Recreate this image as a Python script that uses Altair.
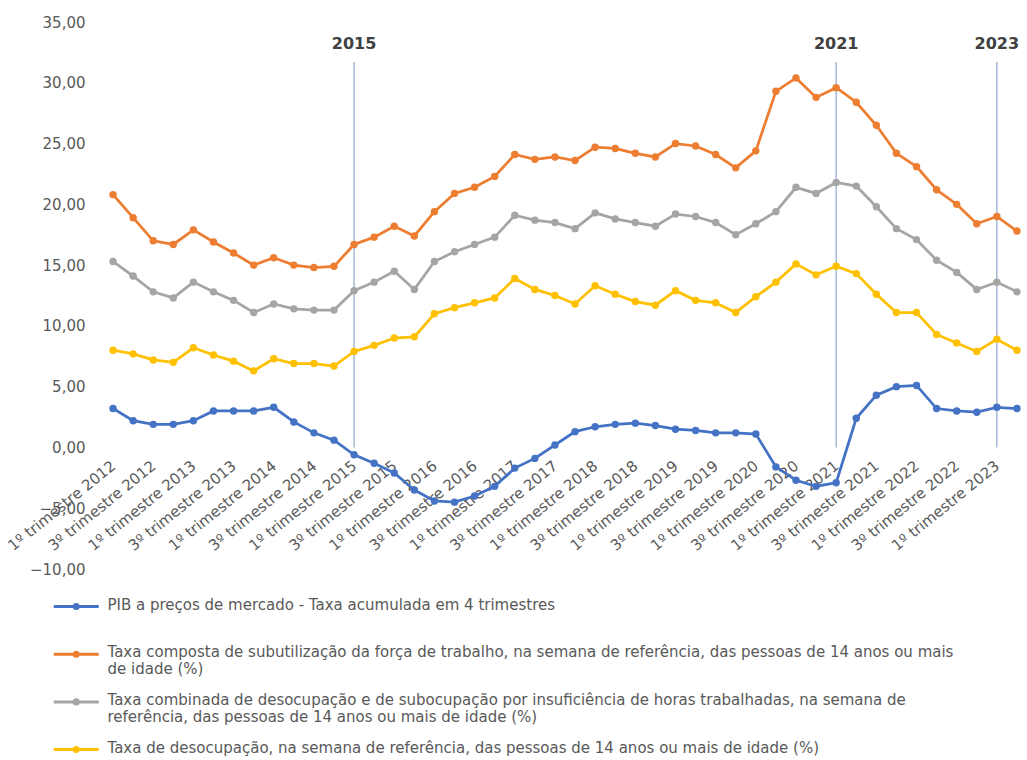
import altair as alt
import pandas as pd

FONT = "DejaVu Sans"

quarters = [
    f"{q}º trimestre {y}" for y in range(2012, 2024) for q in (1, 2, 3, 4)
][:46]

series_names = [
    "PIB a preços de mercado - Taxa acumulada em 4 trimestres| ",
    "Taxa composta de subutilização da força de trabalho, na semana de referência, das pessoas de 14 anos ou mais|de idade (%)",
    "Taxa combinada de desocupação e de subocupação por insuficiência de horas trabalhadas, na semana de|referência, das pessoas de 14 anos ou mais de idade (%)",
    "Taxa de desocupação, na semana de referência, das pessoas de 14 anos ou mais de idade (%)| ",
]
series_colors = ["#4472C4", "#ED7D31", "#A5A5A5", "#FFC000"]

pib = [3.2, 2.2, 1.9, 1.9, 2.2, 3.0, 3.0, 3.0, 3.3, 2.1, 1.2, 0.6,
       -0.6, -1.3, -2.1, -3.5, -4.4, -4.5, -4.0, -3.2, -1.7, -0.9, 0.2, 1.3,
       1.7, 1.9, 2.0, 1.8, 1.5, 1.4, 1.2, 1.2, 1.1, -1.6, -2.7, -3.2,
       -2.9, 2.4, 4.3, 5.0, 5.1, 3.2, 3.0, 2.9, 3.3, 3.2]
composta = [20.8, 18.9, 17.0, 16.7, 17.9, 16.9, 16.0, 15.0, 15.6, 15.0, 14.8, 14.9,
            16.7, 17.3, 18.2, 17.4, 19.4, 20.9, 21.4, 22.3, 24.1, 23.7, 23.9, 23.6,
            24.7, 24.6, 24.2, 23.9, 25.0, 24.8, 24.1, 23.0, 24.4, 29.3, 30.4, 28.8,
            29.6, 28.4, 26.5, 24.2, 23.1, 21.2, 20.0, 18.4, 19.0, 17.8]
combinada = [15.3, 14.1, 12.8, 12.3, 13.6, 12.8, 12.1, 11.1, 11.8, 11.4, 11.3, 11.3,
             12.9, 13.6, 14.5, 13.0, 15.3, 16.1, 16.7, 17.3, 19.1, 18.7, 18.5, 18.0,
             19.3, 18.8, 18.5, 18.2, 19.2, 19.0, 18.5, 17.5, 18.4, 19.4, 21.4, 20.9,
             21.8, 21.5, 19.8, 18.0, 17.1, 15.4, 14.4, 13.0, 13.6, 12.8]
desocupacao = [8.0, 7.7, 7.2, 7.0, 8.2, 7.6, 7.1, 6.3, 7.3, 6.9, 6.9, 6.7,
               7.9, 8.4, 9.0, 9.1, 11.0, 11.5, 11.9, 12.3, 13.9, 13.0, 12.5, 11.8,
               13.3, 12.6, 12.0, 11.7, 12.9, 12.1, 11.9, 11.1, 12.4, 13.6, 15.1, 14.2,
               14.9, 14.3, 12.6, 11.1, 11.1, 9.3, 8.6, 7.9, 8.9, 8.0]

marker_quarters = ["1º trimestre 2015", "1º trimestre 2021", "1º trimestre 2023"]
marker_labels = ["2015", "2021", "2023"]

rows = []
for name, vals in zip(series_names, [pib, composta, combinada, desocupacao]):
    for q, v in zip(quarters, vals):
        rows.append({"trimestre": q, "serie": name, "valor": v})
df = pd.DataFrame(rows)
markers = pd.DataFrame({"trimestre": marker_quarters, "ano": marker_labels})

xscale = alt.Scale(domain=quarters, type="point", padding=0.5)
yscale = alt.Scale(domain=[-10, 35], nice=False)

x_axis = alt.Axis(
    values=quarters[::2], labelAngle=-39, offset=-121.6, domain=False, ticks=False,
    grid=False, labelFont=FONT, labelFontSize=15, labelColor="#595959",
    labelPadding=16, title=None, zindex=0, labelOverlap=False, labelLimit=300,
)
y_axis = alt.Axis(
    values=list(range(-10, 36, 5)),
    labelExpr="replace(format(datum.value, '.2f'), '.', ',')",
    domain=False, ticks=False, gridColor="#D9D9D9", gridWidth=1.2,
    labelFont=FONT, labelFontSize=15, labelColor="#595959", labelPadding=18,
    title=None,
)

SYMBOL = "M-2,0.8H2M-0.18,0.8A0.18,0.18,0,1,1,0.18,0.8A0.18,0.18,0,1,1,-0.18,0.8"

lines = alt.Chart(df).mark_line(
    strokeWidth=2.75,
    point=alt.OverlayMarkDef(filled=True, size=55),
).encode(
    x=alt.X("trimestre:N", scale=xscale, axis=x_axis, sort=quarters),
    y=alt.Y("valor:Q", scale=yscale, axis=y_axis),
    color=alt.Color(
        "serie:N",
        scale=alt.Scale(domain=series_names, range=series_colors),
        legend=alt.Legend(
            title=None, orient="none", legendX=-39.75, legendY=562.5,
            direction="vertical", symbolType=SYMBOL, symbolSize=506,
            symbolStrokeWidth=3, labelExpr="split(datum.label, '|')",
            labelFont=FONT, labelFontSize=15, labelColor="#595959",
            labelLimit=1000, rowPadding=2.7, labelOffset=18.25,
            labelBaseline="top",
        ),
    ),
)

rules = alt.Chart(markers).mark_rule(color="#8FA5CC", strokeWidth=1.2).encode(
    x=alt.X("trimestre:N", scale=xscale, sort=quarters),
    y=alt.datum(0),
    y2=alt.datum(31.7),
)

texts = alt.Chart(markers).mark_text(
    font=FONT, fontWeight="bold", fontSize=16, color="#404040", baseline="middle"
).encode(
    x=alt.X("trimestre:N", scale=xscale, sort=quarters),
    y=alt.datum(33.2),
    text="ano:N",
)

chart = alt.layer(rules, texts, lines).properties(
    width=924, height=547,
    autosize=alt.AutoSizeParams(type="none"),
    padding={"left": 103, "top": 22, "right": 0, "bottom": 191},
    background="white",
).configure_view(stroke=None)

chart.save("out.html", embed_options={"renderer": "svg", "actions": False})
